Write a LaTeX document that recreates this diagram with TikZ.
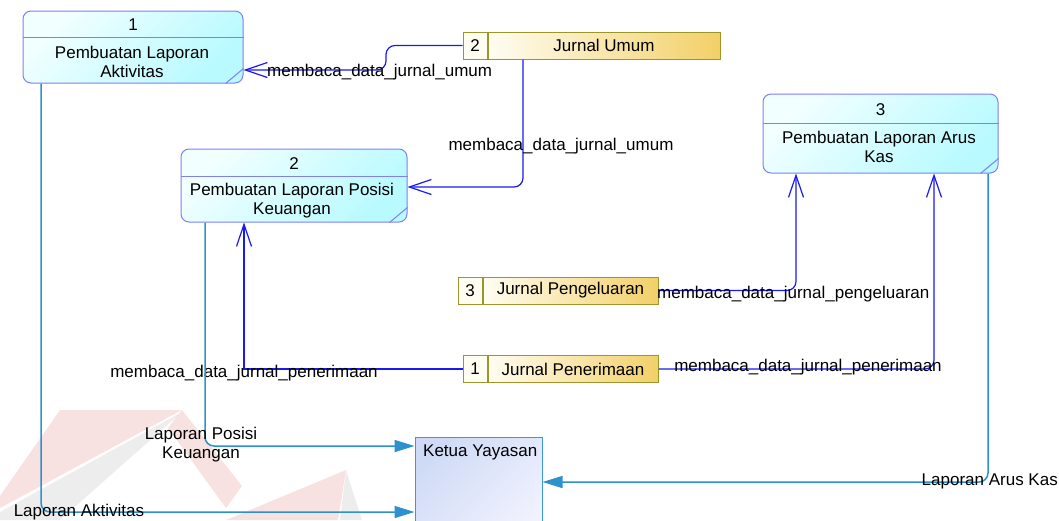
\documentclass[tikz,border=0pt]{standalone}
\usepackage{fontspec}
\setmainfont{Liberation Sans}
\usetikzlibrary{arrows.meta,calc}

\definecolor{procline}{HTML}{8080F0}
\definecolor{procA}{HTML}{F2FFFF}
\definecolor{procB}{HTML}{B8FAFF}
\definecolor{storeline}{HTML}{9A9628}
\definecolor{storeA}{HTML}{FFFDF2}
\definecolor{storeB}{HTML}{F2D068}
\definecolor{entline}{HTML}{3C9AD2}
\definecolor{entA}{HTML}{CFDBF6}
\definecolor{entB}{HTML}{F2F2FE}
\definecolor{inflow}{HTML}{1A1AF0}
\definecolor{outflow}{HTML}{2E90CC}
\definecolor{wmred}{HTML}{F8E1E1}
\definecolor{wmgray}{HTML}{EDEDED}

\begin{document}
\begin{tikzpicture}[x=1pt,y=-1pt,
  font=\fontsize{17}{19}\selectfont,
  procbox/.style={draw=procline, line width=1pt, rounded corners=8pt,
    top color=procA, bottom color=procB, shading angle=45},
  procrule/.style={draw=procline, line width=1pt},
  storeid/.style={draw=storeline, fill=storeA, line width=1pt,
    minimum width=24pt, minimum height=27pt, inner sep=0pt},
  storelbl/.style={draw=storeline, line width=1pt, left color=storeA,
    right color=storeB, minimum height=27pt, inner sep=0pt, anchor=west},
  entbox/.style={draw=entline, line width=1pt, top color=entA,
    bottom color=entB, shading angle=45},
  lbl/.style={inner sep=0pt, align=center},
  inflowline/.style={draw=inflow, line width=1.2pt,
    -{Straight Barb[length=22pt,width=15pt,line width=1.2pt]}},
  outflowline/.style={draw=outflow, line width=1.5pt,
    -{Triangle[length=20pt,width=12pt]}}]

\clip (0,0) rectangle (1059,520);
\useasboundingbox (0,0) rectangle (1059,520);

% faint logo in the background
\fill[wmred] (0,496) -- (60,410) -- (182,410) -- (0,508) -- cycle;
\fill[wmgray] (0,512) -- (182,412) -- (60,520) -- (0,520) -- cycle;
\fill[wmred] (182,410) -- (242,486) -- (226,508) -- (168,428) -- cycle;
\fill[wmred] (226,520) -- (346,470) -- (338,520) -- cycle;
\fill[wmgray] (346,470) -- (362,520) -- (340,520) -- cycle;

% processes
\node[procbox, minimum width=220pt, minimum height=72pt] (p1) at (133,47) {};
\draw[procrule] ([yshift=-27pt]p1.north west) -- ([yshift=-27pt]p1.north east);
\draw[procrule] ([xshift=-18pt]p1.south east) -- ([yshift=15pt]p1.south east);
\node[lbl] (p1n) at ($(p1.north)+(0,14)$) {1};
\node[lbl] (p1t) at (132,62) {Pembuatan Laporan\\Aktivitas};

\node[procbox, minimum width=226pt, minimum height=73pt] (p2) at (294,185.5) {};
\draw[procrule] ([yshift=-28pt]p2.north west) -- ([yshift=-28pt]p2.north east);
\draw[procrule] ([xshift=-18pt]p2.south east) -- ([yshift=15pt]p2.south east);
\node[lbl] (p2n) at ($(p2.north)+(0,15)$) {2};
\node[lbl] (p2t) at (292,201) {Pembuatan Laporan Posisi\\Keuangan};

\node[procbox, minimum width=235pt, minimum height=79pt] (p3) at (880.5,133.5) {};
\draw[procrule] ([yshift=-30pt]p3.north west) -- ([yshift=-30pt]p3.north east);
\draw[procrule] ([xshift=-18pt]p3.south east) -- ([yshift=15pt]p3.south east);
\node[lbl] (p3n) at ($(p3.north)+(0,16)$) {3};
\node[lbl] (p3t) at (879,147) {Pembuatan Laporan Arus\\Kas};

% data stores
\node[storeid] (s2id) at (475,45.5) {2};
\node[storelbl, minimum width=232pt] (s2) at (s2id.east) {Jurnal Umum};

\node[storeid] (s3id) at (470,290.5) {3};
\node[storelbl, minimum width=175pt] (s3) at (s3id.east) {Jurnal Pengeluaran};

\node[storeid] (s1id) at (475,369) {1};
\node[storelbl, minimum width=170pt] (s1) at (s1id.east) {Jurnal Penerimaan};

% external entity
\node[entbox, minimum width=127pt, minimum height=110pt] (ky) at (478.5,492) {};
\node[lbl, anchor=west] (kyt) at (423,452) {Ketua Yayasan};

% data flows read from the stores
\coordinate (f1a) at (386,45.5);
\coordinate (f1b) at (386,70);
\draw[inflowline, rounded corners=9pt] (s2id.west) -- (f1a) -- (f1b) -- (p1.east |- f1b);
\node[lbl, anchor=west] (l1) at (267,72) {membaca\_data\_jurnal\_umum};

\coordinate (f2) at (523,187);
\draw[inflowline, rounded corners=9pt] (f2 |- s2.south) -- (f2) -- (p2.east |- f2);
\node[lbl] (l2) at (561,146) {membaca\_data\_jurnal\_umum};

\coordinate (f3) at (796,290.5);
\draw[inflowline, rounded corners=9pt] (s3.east) -- (f3) -- (p3.south -| f3);
\node[lbl, anchor=west] (l3) at (657,294) {membaca\_data\_jurnal\_pengeluaran};

\coordinate (f4) at (934,369);
\draw[inflowline, rounded corners=9pt] (s1.east) -- (f4) -- (p3.south -| f4);
\node[lbl] (l4) at (808,367) {membaca\_data\_jurnal\_penerimaan};

\coordinate (f5) at (244,369);
\draw[inflowline] (s1id.west) -- (f5) -- (p2.south -| f5);
\node[lbl] (l5) at (244,373) {membaca\_data\_jurnal\_penerimaan};

% reports sent to the foundation head
\coordinate (o6) at (205,446);
\draw[outflowline, rounded corners=9pt] (p2.south -| o6) -- (o6) -- (ky.west |- o6);
\node[lbl] (l6) at (201,445) {Laporan Posisi\\Keuangan};

\coordinate (o7) at (41,512);
\draw[outflowline, rounded corners=9pt] (p1.south -| o7) -- (o7) -- (ky.west |- o7);
\node[lbl] (l7) at (79,512) {Laporan Aktivitas};

\coordinate (o8) at (988,482);
\draw[outflowline, rounded corners=9pt] (p3.south -| o8) -- (o8) -- (ky.east |- o8);
\node[lbl, anchor=east] (l8) at (1058,481) {Laporan Arus Kas};
\end{tikzpicture}
\end{document}
